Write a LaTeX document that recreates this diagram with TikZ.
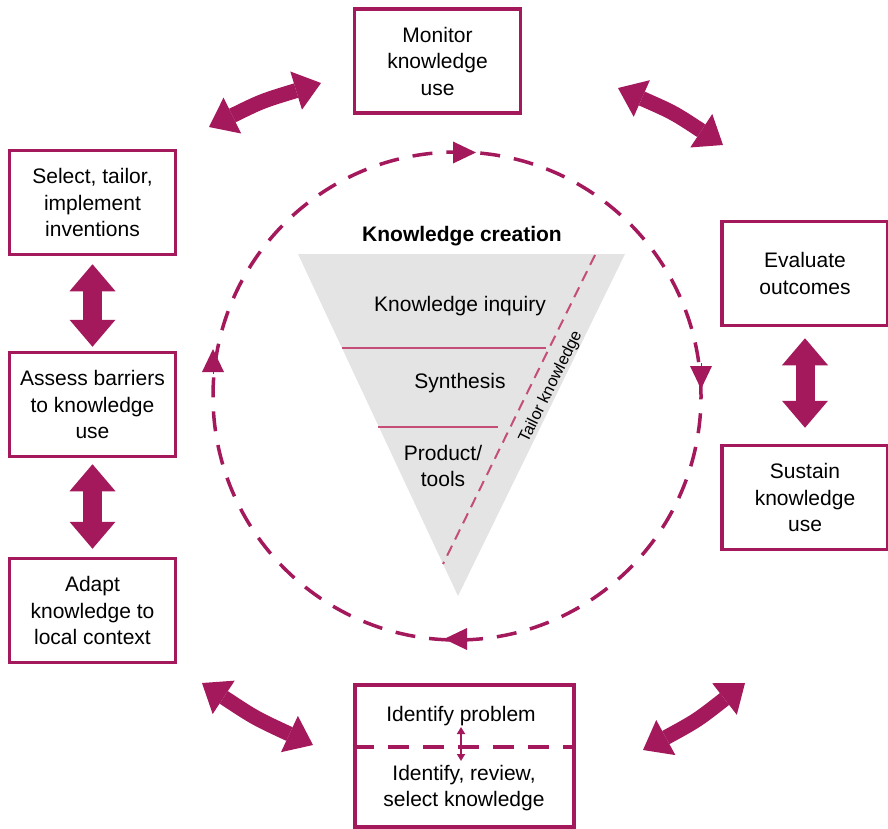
\documentclass[tikz,border=0pt]{standalone}
\usepackage{fontspec}
\setmainfont{Liberation Sans}
\usetikzlibrary{arrows.meta}
\definecolor{plum}{RGB}{163,25,92}
\definecolor{plumlight}{RGB}{196,78,120}
\definecolor{conegray}{RGB}{228,228,228}
\begin{document}
\begin{tikzpicture}[x=1pt,y=-1pt,
  stepbox/.style={draw=plum, line width=3.5pt, fill=white,
    minimum width=166pt, minimum height=104pt, align=center,
    font=\fontsize{21}{26.5}\selectfont, inner sep=0pt},
  label/.style={align=center, font=\fontsize{21}{26.5}\selectfont, inner sep=0pt},
  fatarrow/.style={plum, line width=19pt,
    {Triangle[length=27pt,width=46pt,line width=0pt]}-{Triangle[length=27pt,width=46pt,line width=0pt]}},
  bentarrow/.style={plum, line width=15pt,
    {Triangle[length=26pt,width=40pt,line width=0pt]}-{Triangle[length=26pt,width=40pt,line width=0pt]}},
  ring/.style={plum, line width=3.5pt, dash pattern=on 20pt off 14pt},
  ringtip/.style={plum, line width=0.5pt, -{Triangle[length=23pt,width=22pt,line width=0pt]}},
]
\useasboundingbox (0,0) rectangle (888,828);

% outer process boxes
\node[stepbox] (mon) at (437.5,61)  {Monitor\\knowledge\\use};
\node[stepbox] (sel) at (92.5,202.5) {Select, tailor,\\implement\\inventions};
\node[stepbox] (ass) at (92.5,404.5) {Assess barriers\\to knowledge\\use};
\node[stepbox] (ada) at (92.5,610.5) {Adapt\\knowledge to\\local context};
\node[stepbox] (eva) at (805,273.5)  {Evaluate\\outcomes};
\node[stepbox] (sus) at (805,497.5)  {Sustain\\knowledge\\use};

% split box at the bottom
\node[draw=plum, line width=3.5pt, fill=white, minimum width=219pt,
      minimum height=142pt, inner sep=0pt] (idb) at (464.5,756) {};
\coordinate (splitl) at (idb.west |- 0,747);
\coordinate (splitr) at (idb.east |- 0,747);
\draw[plum, line width=3.5pt, dash pattern=on 21pt off 14pt] (splitl) -- (splitr);
\node[label] (prob) at (461,716) {Identify problem};
\node[label] (revi) at (464,788) {Identify, review,\\select knowledge};
\draw[plum, line width=2pt, {Triangle[length=7pt,width=8pt]}-{Triangle[length=7pt,width=8pt]}]
  (461,727) -- (461,761);

% straight double arrows between stacked boxes
\draw[fatarrow] ([yshift=-8pt]sel.south) -- ([yshift=4pt]ass.north);
\draw[fatarrow] ([yshift=-6pt]ass.south) -- ([yshift=8pt]ada.north);
\draw[fatarrow] ([yshift=-11pt]eva.south) -- ([yshift=16pt]sus.north);

% slightly bowed double arrows around the cycle
\coordinate (tla) at (209,127); \coordinate (tlb) at (321,83);
\coordinate (tra) at (618,88);  \coordinate (trb) at (723,145);
\coordinate (bla) at (202,683); \coordinate (blb) at (313,745);
\coordinate (bra) at (643,750); \coordinate (brb) at (745,683);
\draw[bentarrow] (tla) .. controls (262,101) .. (tlb);
\draw[bentarrow] (tra) .. controls (673.5,112.5) .. (trb);
\draw[bentarrow] (bla) .. controls (255,718) .. (blb);
\draw[bentarrow] (bra) .. controls (697,720.5) .. (brb);

% dashed cycle with direction marks
\coordinate (ctr) at (457,396);
\draw[ring] (ctr) circle[radius=244pt];
\draw[ringtip] (452,152.5) -- (476,152.5);
\draw[ringtip] (701,363) -- (701,389);
\draw[ringtip] (468,639) -- (444,639);
\draw[ringtip] (213,374) -- (213,349);

% knowledge creation funnel
\coordinate (fa) at (298,254);
\coordinate (fb) at (625,254);
\coordinate (fc) at (458,596);
\fill[conegray] (fa) -- (fb) -- (fc) -- cycle;
\coordinate (l1a) at (342,348); \coordinate (l1b) at (546,348);
\coordinate (l2a) at (378,427); \coordinate (l2b) at (498,427);
\draw[plumlight, line width=2pt] (l1a) -- (l1b);
\draw[plumlight, line width=2pt] (l2a) -- (l2b);
\coordinate (ta) at (595,255);
\coordinate (tb) at (443,564);
\draw[plumlight, line width=2pt, dash pattern=on 11pt off 7pt] (ta) -- (tb);

\node[label, font=\fontsize{21}{26.5}\selectfont\bfseries] (kc) at (462,236) {Knowledge creation};
\node[label] (kinq) at (460,306) {Knowledge inquiry};
\node[label] (syn) at (460,383) {Synthesis};
\node[label] (prod) at (443,466) {Product/\\tools};
\node[label, font=\fontsize{16.5}{20}\selectfont, rotate=63.7] (tail) at (551,387) {Tailor knowledge};
\end{tikzpicture}
\end{document}
